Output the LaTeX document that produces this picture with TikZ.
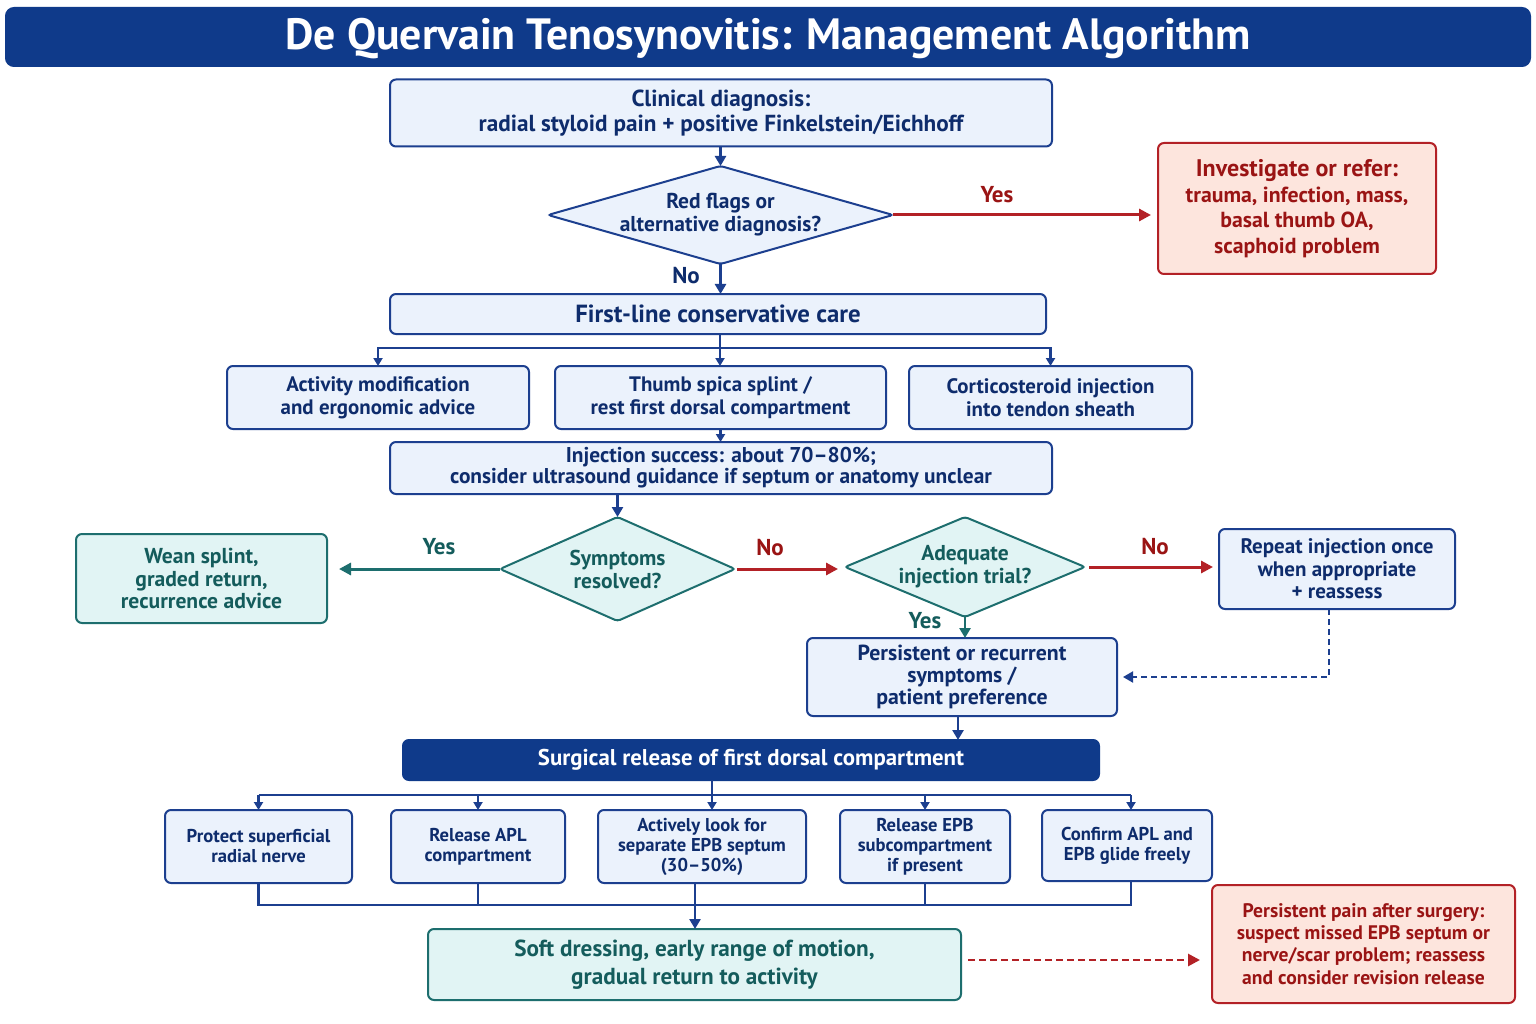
\documentclass[tikz,border=0pt]{standalone}
\usepackage{fontspec}
\setmainfont{PT Sans}
\usetikzlibrary{arrows.meta,shapes.geometric}
\definecolor{navy}{HTML}{0F3A8A}
\definecolor{bordb}{HTML}{1C3F8F}
\definecolor{txtb}{HTML}{0E2C6C}
\definecolor{fillb}{HTML}{EBF2FC}
\definecolor{tealb}{HTML}{1D6E6E}
\definecolor{txtt}{HTML}{145C5C}
\definecolor{fillt}{HTML}{E1F4F4}
\definecolor{redb}{HTML}{B32126}
\definecolor{txtr}{HTML}{9A1414}
\definecolor{fillr}{HTML}{FDE5DD}
\newcommand\myfs[2]{\fontsize{#1}{#2}\selectfont}
\tikzset{
  box/.style={draw=bordb, fill=fillb, line width=2pt, rounded corners=6pt, text=txtb,
    align=center, font=\bfseries, inner sep=0pt, outer sep=0pt},
  tbox/.style={box, draw=tealb, fill=fillt, text=txtt},
  rbox/.style={box, draw=redb, fill=fillr, text=txtr},
  dbox/.style={box, draw=navy, fill=navy, text=white},
  dia/.style={diamond, draw=bordb, fill=fillb, line width=2pt, rounded corners=3pt, inner sep=0pt, outer sep=0pt},
  tdia/.style={dia, draw=tealb, fill=fillt},
  dtext/.style={align=center, font=\bfseries\myfs{21.5}{23}, inner sep=0pt},
  arr/.style={draw=bordb, line width=2.6pt, -{Triangle[length=10pt,width=11pt]}},
  sarr/.style={draw=bordb, line width=2.4pt, -{Triangle[length=8pt,width=9pt]}},
  ln/.style={draw=bordb, line width=2.5pt},
  rarr/.style={draw=redb, line width=3pt, -{Triangle[length=12pt,width=12pt]}},
  tarr/.style={draw=tealb, line width=3pt, -{Triangle[length=12pt,width=12pt]}},
  lab/.style={font=\bfseries\myfs{23}{24}, inner sep=0pt},
}
\begin{document}
\begin{tikzpicture}[x=1pt,y=-1pt]
\useasboundingbox (0,0) rectangle (1536,1024);
\fill[white] (0,0) rectangle (1536,1024);
% title
\node[dbox, rounded corners=8pt, minimum width=1524, minimum height=58] (title) at (768,37) {};
\node[text=white, font=\bfseries\myfs{43.8}{46}, inner sep=0pt] (titlet) at (768,39) {De Quervain Tenosynovitis: Management Algorithm};
% top
\node[box, minimum width=662, minimum height=67, font=\bfseries\myfs{23.2}{25.5}] (clin) at (721,113) {Clinical diagnosis:\\radial styloid pain + positive Finkelstein/Eichhoff};
\node[dia, minimum width=345, minimum height=98] (d1) at (720.5,215) {};
\node[dtext, text=txtb] (d1t) at (d1.center) {Red flags or\\alternative diagnosis?};
\node[rbox, minimum width=278, minimum height=131, font=\bfseries\myfs{21.8}{25.5}] (inv) at (1297,208.5) {{\myfs{24}{25.5}Investigate or refer:}\\trauma, infection, mass,\\basal thumb OA,\\scaphoid problem};
\node[box, minimum width=656, minimum height=40, font=\bfseries\myfs{24.8}{26}] (first) at (718,314) {First-line conservative care};
\node[box, minimum width=302, minimum height=63, font=\bfseries\myfs{20.9}{23}] (act) at (378,397.5) {Activity modification\\and ergonomic advice};
\node[box, minimum width=331, minimum height=63, font=\bfseries\myfs{20.9}{23}] (thumb) at (720.5,397.5) {Thumb spica splint /\\rest first dorsal compartment};
\node[box, minimum width=283, minimum height=63, font=\bfseries\myfs{20.9}{23}] (cort) at (1050.5,397.5) {Corticosteroid injection\\into tendon sheath};
\node[box, minimum width=662, minimum height=52, font=\bfseries\myfs{21.4}{21}] (inj) at (721,468) {Injection success: about 70--80\%;\\consider ultrasound guidance if septum or anatomy unclear};
% middle
\node[tdia, minimum width=235, minimum height=104] (d2) at (617.5,569) {};
\node[dtext, text=txtt] (d2t) at (d2.center) {Symptoms\\resolved?};
\node[tbox, minimum width=251, minimum height=89, font=\bfseries\myfs{21.6}{22.5}] (wean) at (201.5,578.5) {Wean splint,\\graded return,\\recurrence advice};
\node[tdia, minimum width=240, minimum height=100] (d3) at (965,567) {};
\node[dtext, text=txtt] (d3t) at (d3.center) {Adequate\\injection trial?};
\node[box, minimum width=236, minimum height=80, font=\bfseries\myfs{21}{22.5}] (rep) at (1337,569) {Repeat injection once\\when appropriate\\+ reassess};
\node[box, minimum width=310, minimum height=78, font=\bfseries\myfs{21.8}{22}] (pers) at (962,677) {Persistent or recurrent\\symptoms /\\patient preference};
% surgery
\node[dbox, minimum width=696, minimum height=40, font=\bfseries\myfs{22.8}{24}] (surg) at (751,760) {Surgical release of first dorsal compartment};
\node[box, minimum width=187, minimum height=73, font=\bfseries\myfs{18.6}{20}] (prot) at (258.5,846.5) {Protect superficial\\radial nerve};
\node[box, minimum width=174, minimum height=73, font=\bfseries\myfs{18.6}{20}] (apl) at (478,846.5) {Release APL\\compartment};
\node[box, minimum width=208, minimum height=73, font=\bfseries\myfs{18.6}{20}] (act2) at (702,846.5) {Actively look for\\separate EPB septum\\(30--50\%)};
\node[box, minimum width=170, minimum height=73, font=\bfseries\myfs{18.6}{20}] (epb) at (925,846.5) {Release EPB\\subcompartment\\if present};
\node[box, minimum width=170, minimum height=71, font=\bfseries\myfs{18.6}{20}] (conf) at (1127,845.5) {Confirm APL and\\EPB glide freely};
\node[tbox, minimum width=533, minimum height=71, font=\bfseries\myfs{23.2}{28}] (soft) at (694.5,964.5) {Soft dressing, early range of motion,\\gradual return to activity};
\node[rbox, minimum width=303, minimum height=118, font=\bfseries\myfs{19.6}{22.3}] (pp) at (1363.5,944) {Persistent pain after surgery:\\suspect missed EPB septum or\\nerve/scar problem; reassess\\and consider revision release};
% coordinates
\coordinate (br1) at (720,348);
\coordinate (br2) at (712,795);
\coordinate (br3) at (695,905);
% connectors
\draw[arr] (clin.south -| d1.north) -- (d1.north);
\draw[rarr, shorten >=7pt] (d1.east) -- (d1.east -| inv.west);
\node[lab, text=txtr] (ly1) at (997,195) {Yes};
\draw[arr] (d1.south) -- (d1.south |- first.north);
\node[lab, text=txtb] (ln1) at (686,276) {No};
\draw[ln] (br1 |- first.south) -- (br1);
\draw[ln] (act.north |- br1) -- (cort.north |- br1);
\draw[sarr] (br1) -- (act.north |- br1) -- (act.north);
\draw[sarr] (br1) -- (br1 |- thumb.north);
\draw[sarr] (br1) -- (cort.north |- br1) -- (cort.north);
\draw[sarr] (thumb.south) -- (thumb.south |- inj.north);
\draw[arr] (inj.south -| d2.north) -- (d2.north);
\draw[tarr, shorten >=12pt] (d2.west) -- (d2.west -| wean.east);
\node[lab, text=txtt] (ly2) at (439,547) {Yes};
\draw[rarr, shorten <=2pt, shorten >=7pt] (d2.east) -- (d2.east -| d3.west);
\node[lab, text=txtr] (ln2) at (770,548) {No};
\draw[rarr, shorten <=4pt, shorten >=6pt] (d3.east) -- (d3.east -| rep.west);
\node[lab, text=txtr] (ln3) at (1155,547) {No};
\draw[tarr, line width=2.6pt, -{Triangle[length=10pt,width=11pt]}] (d3.south) -- (d3.south |- pers.north);
\node[lab, text=txtt] (ly3) at (925,621) {Yes};
\draw[arr, dashed, dash pattern=on 6pt off 4pt, line width=2pt, shorten >=6pt] ([xshift=-8pt]rep.south) |- (pers.east);
\draw[arr] ([xshift=-4pt]pers.south) -- ([xshift=-4pt]pers.south |- surg.north);
\draw[ln] (br2 |- surg.south) -- (br2);
\draw[ln] (prot.north |- br2) -- ([xshift=4pt]conf.north |- br2);
\draw[sarr] (prot.north |- br2) -- (prot.north);
\draw[sarr] (apl.north |- br2) -- (apl.north);
\draw[sarr] (br2) -- (br2 |- act2.north);
\draw[sarr] (epb.north |- br2) -- (epb.north);
\draw[sarr] ([xshift=4pt]conf.north |- br2) -- ([xshift=4pt]conf.north);
\draw[ln] (prot.south) -- (prot.south |- br3) -- ([xshift=4pt]conf.south |- br3) -- ([xshift=4pt]conf.south);
\draw[ln] (apl.south) -- (apl.south |- br3);
\draw[ln] (br3 |- act2.south) -- (br3);
\draw[ln] (epb.south) -- (epb.south |- br3);
\draw[arr] (br3) -- (br3 |- soft.north);
\draw[rarr, line width=2.8pt, dashed, dash pattern=on 7pt off 4pt, shorten <=7pt, shorten >=12pt] (soft.east |- 0,960) -- (pp.west |- 0,960);
\end{tikzpicture}
\end{document}
